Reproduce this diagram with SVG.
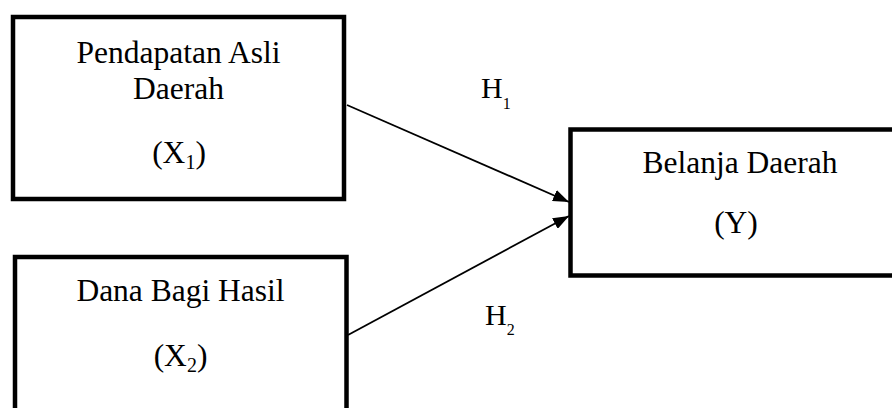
<svg xmlns="http://www.w3.org/2000/svg" width="892" height="408" viewBox="0 0 892 408">
<style>
.box{fill:#fff;stroke:#000;stroke-width:4.5}
.t{font-family:"Liberation Serif","Times New Roman",serif;font-size:31.5px;fill:#000;text-anchor:middle}
.s{font-size:20px}
.h{font-family:"Liberation Serif","Times New Roman",serif;font-size:30px;fill:#000}
.hs{font-size:16px}
.c{stroke:#000;stroke-width:1.8;fill:none}
</style>
<defs>
<marker id="a" viewBox="0 0 16 12" refX="16" refY="6" markerWidth="16" markerHeight="12" markerUnits="userSpaceOnUse" orient="auto">
<path d="M0,0 L16,6 L0,12 Z" fill="#000"/>
</marker>
</defs>
<g id="connectors">
<line class="c" x1="347" y1="105" x2="569" y2="202" marker-end="url(#a)"/>
<line class="c" x1="348" y1="335" x2="569" y2="216" marker-end="url(#a)"/>
<text class="h" x="481" y="98">H<tspan class="hs" dy="11">1</tspan></text>
<text class="h" x="485" y="325">H<tspan class="hs" dy="10">2</tspan></text>
</g>
<g id="x1">
<rect class="box" x="13" y="17" width="331" height="182"/>
<text class="t" x="178.5" y="63">Pendapatan Asli</text>
<text class="t" x="178.5" y="99">Daerah</text>
<text class="t" x="179" y="163">(X<tspan class="s" dy="6">1</tspan><tspan dy="-6">)</tspan></text>
</g>
<g id="x2">
<rect class="box" x="15" y="257" width="331.5" height="170"/>
<text class="t" x="180.5" y="301">Dana Bagi Hasil</text>
<text class="t" x="180.5" y="366">(X<tspan class="s" dy="6">2</tspan><tspan dy="-6">)</tspan></text>
</g>
<g id="y">
<rect class="box" x="570.5" y="129.5" width="341" height="146"/>
<text class="t" x="740" y="173">Belanja Daerah</text>
<text class="t" x="736" y="233">(Y)</text>
</g>
</svg>
